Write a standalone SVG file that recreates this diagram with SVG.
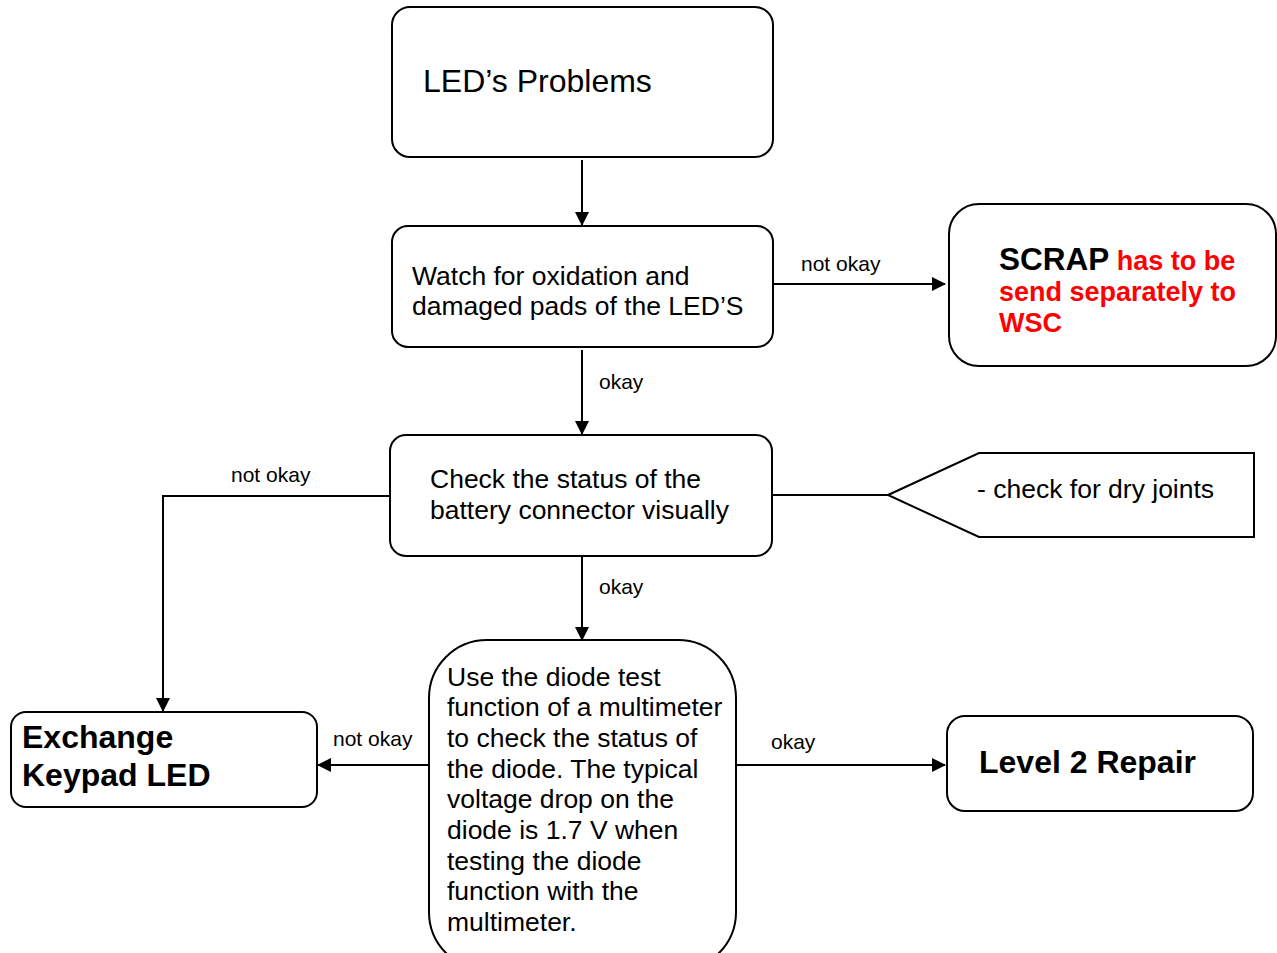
<svg xmlns="http://www.w3.org/2000/svg" width="1277" height="953" viewBox="0 0 1277 953">
<defs>
<marker id="arr" markerWidth="14" markerHeight="14" refX="13" refY="7" orient="auto" markerUnits="userSpaceOnUse">
<path d="M0,0 L14,7 L0,14 Z" fill="#000"/>
</marker>
<style>
.box{fill:#fff;stroke:#000;stroke-width:2}
.t{font-family:"Liberation Sans",Arial,sans-serif;font-size:26.5px;fill:#000}
.b{font-family:"Liberation Sans",Arial,sans-serif;font-weight:bold;font-size:32px;fill:#000}
.lbl{font-family:"Liberation Sans",Arial,sans-serif;font-size:21px;fill:#000}
.red{font-family:"Liberation Sans",Arial,sans-serif;font-weight:bold;font-size:27px;fill:#ff0000}
.c{fill:none;stroke:#000;stroke-width:2}
</style>
</defs>
<rect width="1277" height="953" fill="#fff"/>
<g id="connectors">
<line class="c" x1="582" y1="160" x2="582" y2="225" marker-end="url(#arr)"/>
<line class="c" x1="774" y1="284" x2="945" y2="284" marker-end="url(#arr)"/>
<line class="c" x1="582" y1="350" x2="582" y2="434" marker-end="url(#arr)"/>
<polyline class="c" points="392,496 163,496 163,711" marker-end="url(#arr)"/>
<line class="c" x1="773" y1="495" x2="888" y2="495"/>
<line class="c" x1="582" y1="557" x2="582" y2="640" marker-end="url(#arr)"/>
<line class="c" x1="430" y1="765" x2="318" y2="765" marker-end="url(#arr)"/>
<line class="c" x1="736" y1="765" x2="945" y2="765" marker-end="url(#arr)"/>
<text class="lbl" x="801" y="271">not okay</text>
<text class="lbl" x="599" y="389">okay</text>
<text class="lbl" x="231" y="482">not okay</text>
<text class="lbl" x="599" y="594">okay</text>
<text class="lbl" x="333" y="746">not okay</text>
<text class="lbl" x="771" y="749">okay</text>
</g>
<g id="start">
<rect class="box" x="392" y="7" width="381" height="150" rx="18"/>
<text class="t" style="font-size:32px" x="423" y="92">LED’s Problems</text>
</g>
<g id="watch">
<rect class="box" x="392" y="226" width="381" height="121" rx="16"/>
<text class="t" x="412" y="285">Watch for oxidation and</text>
<text class="t" x="412" y="315">damaged pads of the LED’S</text>
</g>
<g id="scrap">
<rect class="box" x="949" y="204" width="327" height="162" rx="30"/>
<text x="999" y="270"><tspan class="b" style="font-size:31.5px">SCRAP</tspan><tspan class="red"> has to be</tspan></text>
<text class="red" x="999" y="301">send separately to</text>
<text class="red" x="999" y="332">WSC</text>
</g>
<g id="battery">
<rect class="box" x="390" y="435" width="382" height="121" rx="16"/>
<text class="t" x="430" y="488">Check the status of the</text>
<text class="t" x="430" y="519">battery connector visually</text>
</g>
<g id="note">
<polygon class="box" points="888,495 979,453 1254,453 1254,537 979,537"/>
<text class="t" x="977" y="498">- check for dry joints</text>
</g>
<g id="diode">
<rect class="box" x="429" y="640" width="307" height="330" rx="58"/>
<text class="t" x="447" y="686">Use the diode test</text>
<text class="t" x="447" y="716">function of a multimeter</text>
<text class="t" x="447" y="747">to check the status of</text>
<text class="t" x="447" y="778">the diode. The typical</text>
<text class="t" x="447" y="808">voltage drop on the</text>
<text class="t" x="447" y="839">diode is 1.7 V when</text>
<text class="t" x="447" y="870">testing the diode</text>
<text class="t" x="447" y="900">function with the</text>
<text class="t" x="447" y="931">multimeter.</text>
</g>
<g id="exchange">
<rect class="box" x="11" y="712" width="306" height="95" rx="15"/>
<text class="b" x="22" y="748">Exchange</text>
<text class="b" x="22" y="786">Keypad LED</text>
</g>
<g id="level2">
<rect class="box" x="947" y="716" width="306" height="95" rx="18"/>
<text class="b" x="979" y="773">Level 2 Repair</text>
</g>
</svg>
